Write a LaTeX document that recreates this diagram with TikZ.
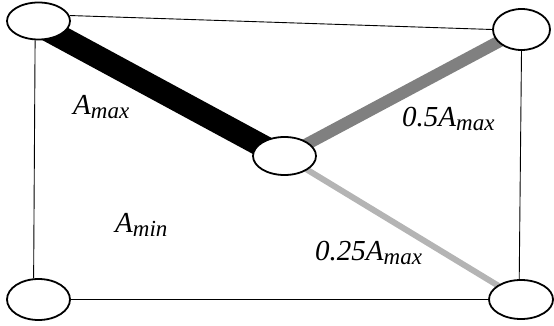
\documentclass[tikz,border=0pt]{standalone}
\usepackage{fontspec}
\setmainfont{Liberation Serif}
\usetikzlibrary{shapes.geometric}
\newcommand{\labsub}[2]{{\itshape #1}\raisebox{-4pt}{\fontsize{23}{23}\selectfont\itshape #2}}
\tikzset{
  joint/.style={ellipse, draw=black, line width=1.8pt, fill=white, inner sep=0pt},
  frame/.style={draw=black, line width=0.9pt},
  member/.style={line width=#1},
  lab/.style={anchor=base west, inner sep=0pt, font=\fontsize{29}{32}\selectfont\itshape}
}
\begin{document}
\begin{tikzpicture}[x=1pt,y=-1pt]
\useasboundingbox (0,0) rectangle (554,326);
% member bar ends (behind joints)
\coordinate (ptl) at (38.5,25);
\coordinate (pc1) at (284.5,158);
\coordinate (ptr) at (521.5,29.5);
\coordinate (pc) at (284.5,156);
\coordinate (pbr) at (521,299.5);
\draw[member=23pt, black] (ptl) -- (pc1);
\draw[member=12pt, color={rgb,255:red,128;green,128;blue,128}] (pc) -- (ptr);
\draw[member=6pt, color={rgb,255:red,180;green,180;blue,180}] (pc) -- (pbr);
% joints
\node[joint, minimum width=63pt, minimum height=37pt] (tl) at (38.5,21) {};
\node[joint, minimum width=57pt, minimum height=41pt] (tr) at (521.5,29.5) {};
\node[joint, minimum width=63pt, minimum height=38pt] (c) at (284.5,156) {};
\node[joint, minimum width=63pt, minimum height=41pt] (bl) at (38.5,299.5) {};
\node[joint, minimum width=64pt, minimum height=39pt] (br) at (521,299.5) {};
% frame
\draw[frame] (tl.10) -- (tr.west);
\draw[frame] (tl.260) -- (bl.103);
\draw[frame] (bl.east) -- (br.west);
\draw[frame] (tr.south) -- (br.95);
% labels
\node[lab] (la) at (73,115) {\labsub{A}{max}};
\node[lab] (lb) at (402,127) {\labsub{0.5A}{max}};
\node[lab] (lc) at (115,232) {\labsub{A}{min}};
\node[lab] (ld) at (315,260) {\labsub{0.25A}{max}};
\end{tikzpicture}
\end{document}
